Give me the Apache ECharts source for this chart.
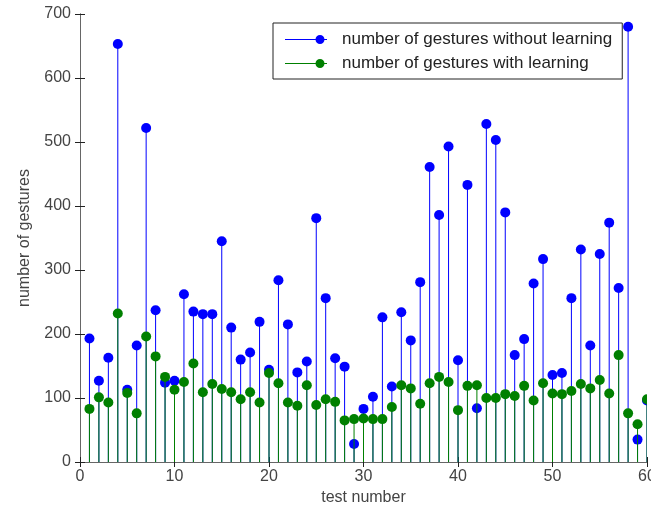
<!DOCTYPE html>
<html>
<head>
<meta charset="utf-8">
<script src="https://cdn.jsdelivr.net/npm/echarts@6/dist/echarts.min.js"></script>
<style>html,body{margin:0;padding:0;background:#fff}#chart{width:651px;height:508px}</style>
</head>
<body>
<div id="chart"></div>
<script>
// test number 1..60
const testNumbers = Array.from({ length: 60 }, (_, i) => i + 1);
const withoutLearning = [
  193, 127, 163, 653, 113, 182, 522, 237, 124, 127,
  262, 235, 231, 231, 345, 210, 160, 171, 219, 144,
  284, 215, 140, 157, 381, 256, 162, 149, 28, 83,
  102, 226, 118, 234, 190, 281, 461, 386, 493, 159,
  433, 84, 528, 503, 390, 167, 192, 279, 317, 136,
  139, 256, 332, 182, 325, 374, 272, 680, 35, 96,
];
const withLearning = [
  83, 101, 93, 232, 108, 76, 196, 165, 133, 113,
  125, 154, 109, 122, 114, 109, 98, 109, 93, 139,
  123, 93, 88, 120, 89, 98, 94, 65, 67, 68,
  67, 67, 86, 120, 115, 91, 123, 133, 125, 81,
  119, 120, 100, 100, 106, 103, 119, 96, 123, 107,
  106, 111, 122, 115, 128, 107, 167, 76, 59, 98,
];
const NAME_A = 'number of gestures without learning';
const NAME_B = 'number of gestures with learning';
const BLUE = '#0000ff';
const GREEN = '#008000';
const FONT = '"Liberation Sans", Arial, sans-serif';

const chart = echarts.init(document.getElementById('chart'));

// stem: vertical line from 0 to value + filled dot (like MATLAB stem)
const stem = (color) => (params, api) => {
  const x = api.value(0), y = api.value(1);
  const p0 = api.coord([x, 0]), p1 = api.coord([x, y]);
  return {
    type: 'group',
    children: [
      { type: 'line', shape: { x1: p0[0], y1: p0[1], x2: p1[0], y2: p1[1] }, style: { stroke: color, lineWidth: 1 } },
      { type: 'circle', shape: { cx: p1[0], cy: p1[1], r: 5 }, style: { fill: color } },
    ],
  };
};

const legendIcon = 'path://M0,4H42V5H0Z M35,0A4.5,4.5 0 1,1 35,9A4.5,4.5 0 1,1 35,0Z';
const axisLine = { lineStyle: { color: '#666', width: 1 } };
const tick = { inside: true, length: 5, lineStyle: { color: '#222' } };
const label = { color: '#444', fontSize: 16, fontFamily: FONT };

chart.setOption({
  animation: false,
  grid: { left: 80, right: 4, top: 14, bottom: 46, outerBoundsMode: 'none', containLabel: false },
  legend: {
    orient: 'vertical', left: 273, top: 23,
    padding: [8, 10, 7, 12], itemGap: 7,
    itemWidth: 42, itemHeight: 9,
    borderColor: '#222', borderWidth: 1, backgroundColor: '#fff',
    textStyle: { color: '#222', fontSize: 17, lineHeight: 17, fontFamily: FONT, padding: [0, 0, 0, 10] },
    data: [
      { name: NAME_A, icon: legendIcon, itemStyle: { color: BLUE } },
      { name: NAME_B, icon: legendIcon, itemStyle: { color: GREEN } },
    ],
  },
  xAxis: [
    {
      type: 'value', min: 0, max: 60, interval: 10,
      name: 'test number', nameLocation: 'middle', nameGap: 28,
      nameTextStyle: { color: '#444', fontSize: 16, fontFamily: FONT },
      axisLine, axisTick: tick, axisLabel: { ...label, margin: 7 }, splitLine: { show: false },
    },
    {
      type: 'value', min: 0, max: 60, interval: 10, position: 'top',
      axisLine, axisTick: tick, axisLabel: { show: false }, splitLine: { show: false },
    },
  ],
  yAxis: [
    {
      type: 'value', min: 0, max: 700, interval: 100,
      name: 'number of gestures', nameLocation: 'middle', nameGap: 47,
      nameTextStyle: { color: '#444', fontSize: 16, fontFamily: FONT },
      axisLine, axisTick: tick, axisLabel: { ...label, margin: 9 }, splitLine: { show: false },
    },
    {
      type: 'value', min: 0, max: 700, interval: 100, position: 'right',
      axisLine, axisTick: tick, axisLabel: { show: false }, splitLine: { show: false },
    },
  ],
  series: [
    {
      name: NAME_A, type: 'custom', clip: true,
      data: testNumbers.map((t, i) => [t, withoutLearning[i]]),
      renderItem: stem(BLUE), itemStyle: { color: BLUE }, z: 2,
    },
    {
      name: NAME_B, type: 'custom', clip: true,
      data: testNumbers.map((t, i) => [t, withLearning[i]]),
      renderItem: stem(GREEN), itemStyle: { color: GREEN }, z: 3,
    },
  ],
});
</script>
</body>
</html>
